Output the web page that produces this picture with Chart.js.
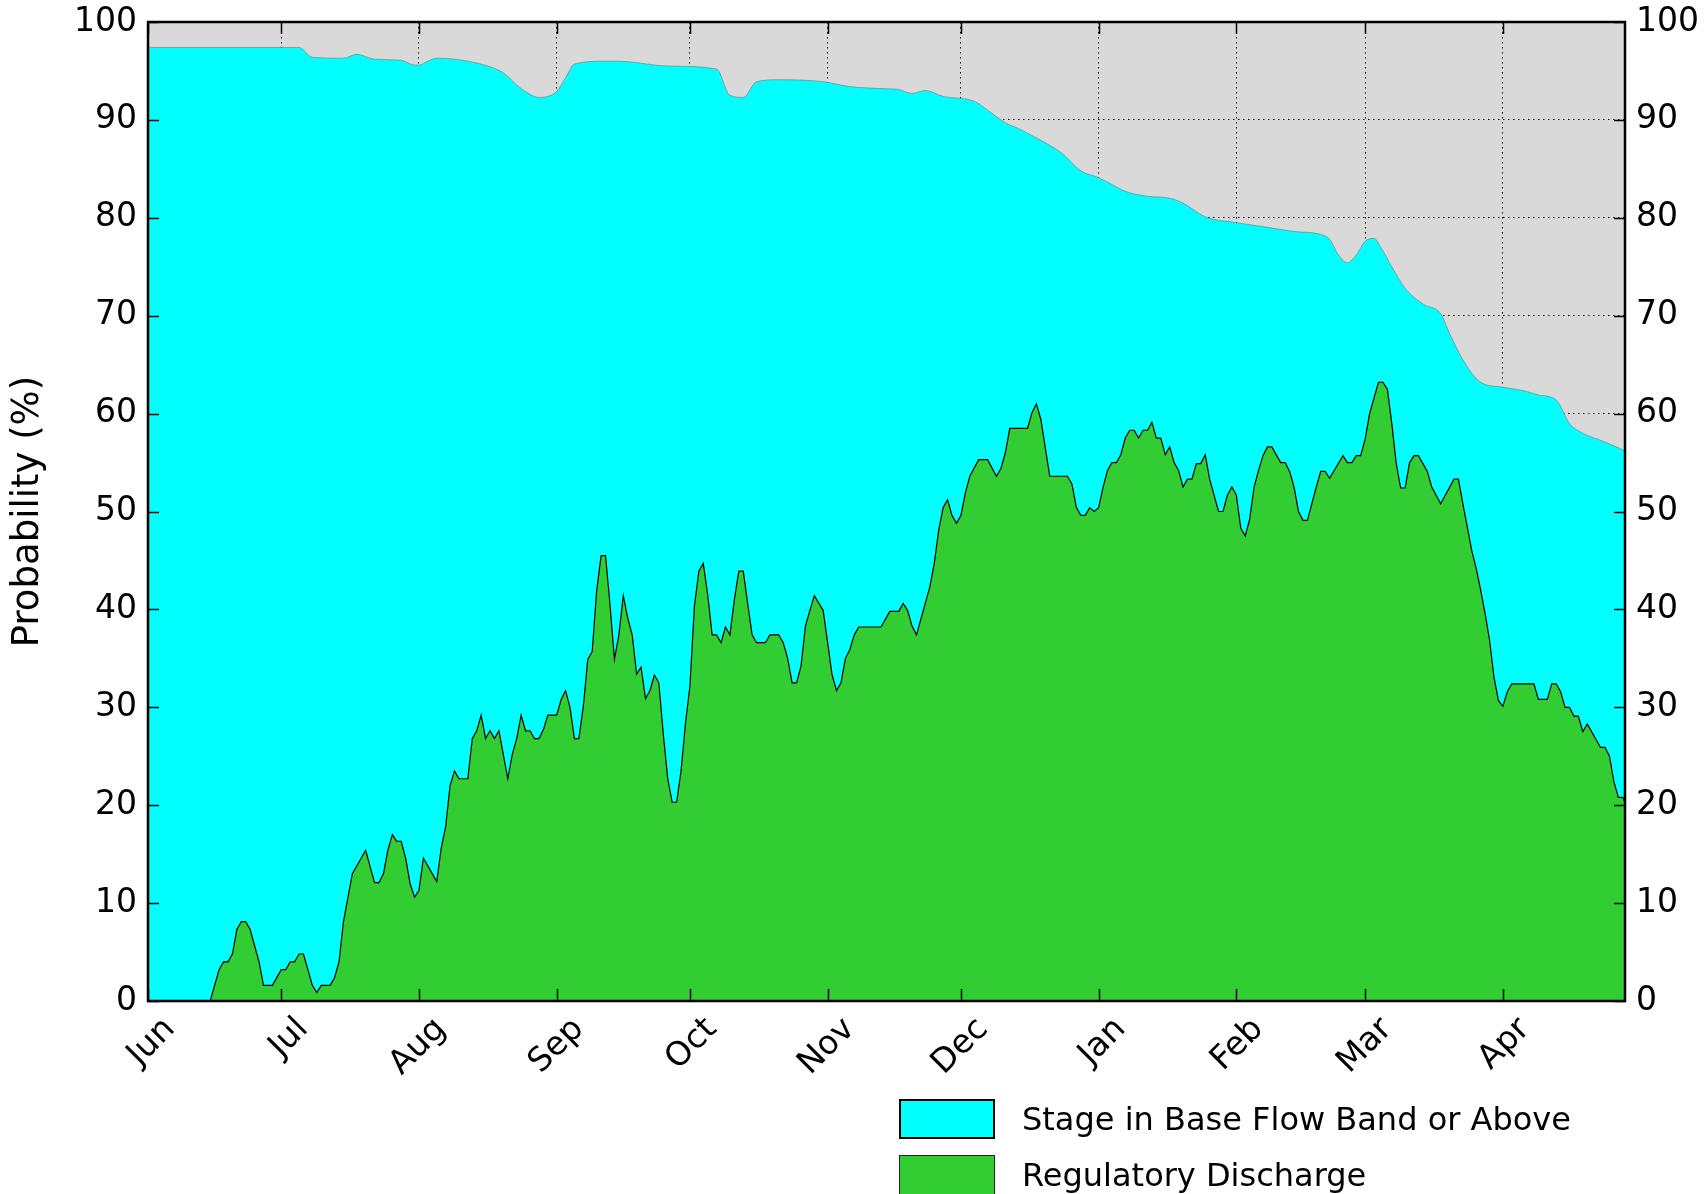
<!DOCTYPE html>
<html>
<head>
<meta charset="utf-8">
<script src="https://cdn.jsdelivr.net/npm/chart.js@4.4.0/dist/chart.umd.min.js"></script>
<style>
html, body { margin: 0; padding: 0; background: #fff; overflow: hidden; }
#wrap { position: relative; width: 1707px; height: 1194px; }
canvas { display: block; }
.lbox { position: absolute; left: 899px; width: 96px; height: 40px; box-sizing: border-box; }
.ltext { position: absolute; left: 1022px; font-family: 'DejaVu Sans', sans-serif; font-size: 32px; line-height: 40px; color: #000; white-space: nowrap; }
</style>
</head>
<body>
<div id="wrap">
  <canvas id="probChart" width="1707" height="1194"></canvas>
  <div class="lbox" style="top:1099px; background:#00ffff; border:2.5px solid #000;"></div>
  <div class="ltext" style="top:1099px;">Stage in Base Flow Band or Above</div>
  <div class="lbox" style="top:1155px; height:44px; background:#32cd32; border:1.5px solid #222;"></div>
  <div class="ltext" style="top:1155px;">Regulatory Discharge</div>
</div>
<script>
// day index from Jun 1 (leap year: Feb has 29 days)
const monthTicks = [0, 30, 61, 92, 122, 153, 183, 214, 245, 274, 305];
const monthLabels = ['Jun', 'Jul', 'Aug', 'Sep', 'Oct', 'Nov', 'Dec', 'Jan', 'Feb', 'Mar', 'Apr'];
const lastDay = 332.5;

// Stage in Base Flow Band or Above (%)
const stageDays = [0, 34, 37, 44, 47, 51, 57, 60, 61, 63, 65, 74, 80, 84, 88, 90, 92, 94, 96, 103,
  106, 117, 128, 131, 134, 137, 142, 152, 158, 165, 169, 172, 175, 179, 186, 189, 193, 196, 199, 203,
  206, 210, 214, 217, 220, 225, 230, 233, 238, 245, 251, 258, 264, 266, 268, 270, 272, 274, 276, 277.5,
  280, 283, 287, 291, 293, 296, 300, 305, 310, 313, 317, 320, 323, 328, 332.5];
const stageValues = [97.4, 97.4, 96.4, 96.3, 96.7, 96.2, 96.1, 95.6, 95.6, 96.0, 96.3, 95.8, 94.8, 93.2, 92.3, 92.4, 92.9, 94.3, 95.7, 96.0,
  96.0, 95.5, 95.2, 92.5, 92.3, 93.9, 94.1, 93.9, 93.4, 93.2, 93.1, 92.7, 93.0, 92.4, 91.9, 91.0, 89.7, 89.1, 88.4, 87.4,
  86.5, 84.8, 84.1, 83.4, 82.7, 82.2, 82.0, 81.5, 80.1, 79.5, 79.1, 78.6, 78.3, 77.8, 76.2, 75.4, 76.2, 77.6, 77.9, 77.0,
  75.0, 72.8, 71.2, 70.2, 68.2, 65.5, 63.2, 62.7, 62.3, 61.9, 61.4, 59.0, 58.0, 57.1, 56.2];

// Regulatory Discharge (%)
const dischargeDays = [0, 14, 16, 17, 18, 19, 20, 21, 22, 23, 25, 26, 28, 30, 31, 32, 33, 34, 35, 37,
  38, 39, 41, 42, 43, 44, 46, 49, 51, 52, 53, 54, 55, 56, 57, 58, 59, 60, 61, 62,
  65, 66, 67, 68, 69, 70, 72, 73, 74, 75, 76, 77, 78, 79, 81, 82, 83, 84, 85, 86,
  87, 88, 89, 90, 92, 93, 94, 95, 96, 97, 98, 99, 100, 101, 102, 103, 104, 105, 106, 107,
  108, 109, 110, 111, 112, 113, 114, 115, 116, 117, 118, 119, 120, 121, 122, 123, 124, 125, 126, 127,
  128, 129, 130, 131, 132, 133, 134, 135, 136, 137, 139, 140, 142, 143, 144, 145, 146, 147, 148, 149,
  150, 152, 153, 154, 155, 156, 157, 158, 159, 160, 165, 167, 169, 170, 171, 172, 173, 176, 177, 178,
  179, 180, 181, 182, 183, 184, 185, 187, 189, 191, 192, 193, 194, 198, 199, 200, 201, 203, 207, 208,
  209, 210, 211, 212, 213, 214, 215, 216, 217, 218, 219, 220, 221, 222, 223, 224, 225, 226, 227, 228,
  229, 230, 231, 232, 233, 234, 235, 236, 237, 238, 239, 241, 242, 243, 244, 245, 246, 247, 248, 249,
  250, 251, 252, 253, 255, 256, 257, 258, 259, 260, 261, 262, 263, 264, 265, 266, 269, 270, 271, 272,
  273, 274, 275, 276, 277, 278, 279, 280, 281, 282, 283, 284, 285, 286, 288, 289, 291, 294, 295, 296,
  297, 298, 299, 300, 301, 302, 303, 304, 305, 306, 307, 312, 313, 315, 316, 317, 318, 319, 320, 321,
  322, 323, 324, 325, 327, 328, 329, 330, 331, 332, 332.5];
const dischargeValues = [0, 0, 3.2, 4.0, 4.0, 4.8, 7.3, 8.1, 8.1, 7.3, 4.0, 1.6, 1.6, 3.2, 3.2, 4.0, 4.0, 4.8, 4.8, 1.6,
  0.85, 1.6, 1.6, 2.4, 4.0, 8.1, 13.0, 15.4, 12.1, 12.1, 13.0, 15.4, 17.0, 16.3, 16.3, 14.6, 12.0, 10.6, 11.3, 14.6,
  12.2, 15.6, 17.8, 22.0, 23.5, 22.7, 22.7, 26.8, 27.6, 29.2, 26.8, 27.6, 26.8, 27.6, 22.7, 25.2, 26.8, 29.2, 27.6, 27.6,
  26.8, 26.8, 27.7, 29.2, 29.2, 30.8, 31.7, 30.0, 26.8, 26.8, 30.1, 34.9, 35.7, 41.9, 45.5, 45.5, 40.5, 34.9, 37.4, 41.4,
  39.1, 37.4, 33.4, 34.1, 30.9, 31.7, 33.3, 32.5, 27.3, 22.7, 20.3, 20.3, 23.5, 28.4, 32.2, 40.3, 43.9, 44.7, 41.5, 37.4,
  37.4, 36.6, 38.2, 37.4, 41.0, 43.9, 43.9, 40.6, 37.4, 36.6, 36.6, 37.4, 37.4, 36.6, 35.0, 32.5, 32.5, 34.2, 38.3, 39.9,
  41.4, 39.9, 36.6, 33.3, 31.7, 32.5, 35.0, 35.9, 37.4, 38.2, 38.2, 39.8, 39.8, 40.6, 39.9, 38.3, 37.4, 42.3, 44.7, 48.1,
  50.4, 51.2, 49.6, 48.8, 49.6, 51.9, 53.6, 55.3, 55.3, 53.6, 54.4, 56.0, 58.5, 58.5, 60.1, 61.0, 59.4, 53.6, 53.6, 52.8,
  50.4, 49.6, 49.6, 50.4, 50.0, 50.4, 52.5, 54.2, 55.0, 55.0, 55.8, 57.5, 58.3, 58.3, 57.5, 58.3, 58.3, 59.1, 57.5, 57.5,
  55.8, 56.6, 55.0, 54.2, 52.5, 53.3, 53.3, 54.9, 54.9, 55.8, 53.3, 50.0, 50.0, 51.7, 52.5, 51.7, 48.3, 47.5, 49.2, 52.5,
  54.2, 55.7, 56.6, 56.6, 55.0, 55.0, 54.1, 52.5, 50.0, 49.1, 49.1, 50.8, 52.5, 54.1, 54.1, 53.4, 55.7, 55.0, 55.0, 55.7,
  55.7, 57.4, 60.0, 61.6, 63.2, 63.2, 62.5, 59.0, 54.9, 52.4, 52.4, 55.0, 55.7, 55.7, 54.1, 52.5, 50.8, 53.3, 53.3, 50.8,
  48.4, 46.0, 44.2, 42.0, 39.6, 36.9, 33.1, 30.7, 30.1, 31.6, 32.4, 32.4, 30.8, 30.8, 32.4, 32.4, 31.6, 30.0, 30.0, 29.1,
  29.1, 27.5, 28.3, 27.5, 25.9, 25.9, 25.0, 22.4, 20.8, 20.8, 20.3];

const toPoints = (xs, ys) => xs.map((x, i) => ({ x: x, y: ys[i] }));

const plotFrame = {
    id: 'plotFrame',
    beforeDraw(chart) {
        const a = chart.chartArea, c = chart.ctx;
        c.save();
        c.fillStyle = '#d9d9d9';
        c.fillRect(a.left, a.top, a.right - a.left, a.bottom - a.top);
        c.restore();
    },
    afterDraw(chart) {
        const a = chart.chartArea, c = chart.ctx;
        const xs = chart.scales.x, ys = chart.scales.y;
        c.save();
        c.strokeStyle = '#000';
        c.lineWidth = 1.5;
        c.beginPath();
        monthTicks.forEach(t => {
            const px = Math.round(xs.getPixelForValue(t)) + 0.5;
            c.moveTo(px, a.bottom); c.lineTo(px, a.bottom - 12);
            c.moveTo(px, a.top); c.lineTo(px, a.top + 12);
        });
        for (let v = 0; v <= 100; v += 10) {
            const py = Math.round(ys.getPixelForValue(v)) + 0.5;
            c.moveTo(a.left, py); c.lineTo(a.left + 11, py);
            c.moveTo(a.right, py); c.lineTo(a.right - 11, py);
        }
        c.stroke();
        c.lineWidth = 2.5;
        c.strokeRect(a.left, a.top, a.right - a.left, a.bottom - a.top);
        c.restore();
    }
};

const tickFont = { family: 'DejaVu Sans', size: 33 };
const noPad = s => { s.paddingTop = 0; s.paddingBottom = 0; s.paddingLeft = 0; s.paddingRight = 0; };

const ctx = document.getElementById('probChart').getContext('2d');
const chart = new Chart(ctx, {
    type: 'line',
    data: {
        datasets: [
            {
                label: 'Regulatory Discharge',
                data: toPoints(dischargeDays, dischargeValues),
                borderColor: '#000',
                borderWidth: 1.2,
                backgroundColor: '#32cd32',
                fill: 'origin',
                tension: 0,
                pointRadius: 0
            },
            {
                label: 'Stage in Base Flow Band or Above',
                data: toPoints(stageDays, stageValues),
                borderColor: 'rgba(120,120,120,0.8)',
                borderWidth: 0.8,
                backgroundColor: '#00ffff',
                fill: 'origin',
                cubicInterpolationMode: 'monotone',
                pointRadius: 0
            }
        ]
    },
    options: {
        responsive: false,
        animation: false,
        devicePixelRatio: 1,
        layout: { padding: { top: 22, left: 0, right: 0, bottom: 0 } },
        plugins: { legend: { display: false }, tooltip: { enabled: false } },
        scales: {
            x: {
                type: 'linear',
                min: 0,
                max: lastDay,
                z: 1,
                afterBuildTicks: s => { s.ticks = monthTicks.map(v => ({ value: v })); },
                afterFit: s => { s.height = 193; noPad(s); },
                ticks: {
                    autoSkip: false,
                    minRotation: 45,
                    maxRotation: 45,
                    labelOffset: 22,
                    padding: 9,
                    color: '#000',
                    font: tickFont,
                    callback: v => monthLabels[monthTicks.indexOf(v)]
                },
                grid: { color: '#000', lineWidth: 1, drawTicks: false },
                border: { display: false, dash: [1.5, 3.5] }
            },
            y: {
                min: 0,
                max: 100,
                z: 1,
                afterFit: s => { s.width = 148; noPad(s); },
                ticks: { stepSize: 10, padding: 11, color: '#000', font: tickFont },
                grid: { color: '#000', lineWidth: 1, drawTicks: false },
                border: { display: false, dash: [1.5, 3.5] },
                title: {
                    display: true,
                    text: 'Probability (%)',
                    color: '#000',
                    font: { family: 'DejaVu Sans', size: 37 },
                    padding: { top: 6, bottom: 0 }
                }
            },
            y2: {
                position: 'right',
                min: 0,
                max: 100,
                z: 1,
                afterFit: s => { s.width = 82; noPad(s); },
                ticks: { stepSize: 10, padding: 11, color: '#000', font: tickFont },
                grid: { display: false, drawTicks: false },
                border: { display: false }
            }
        }
    },
    plugins: [plotFrame]
});
</script>
</body>
</html>
